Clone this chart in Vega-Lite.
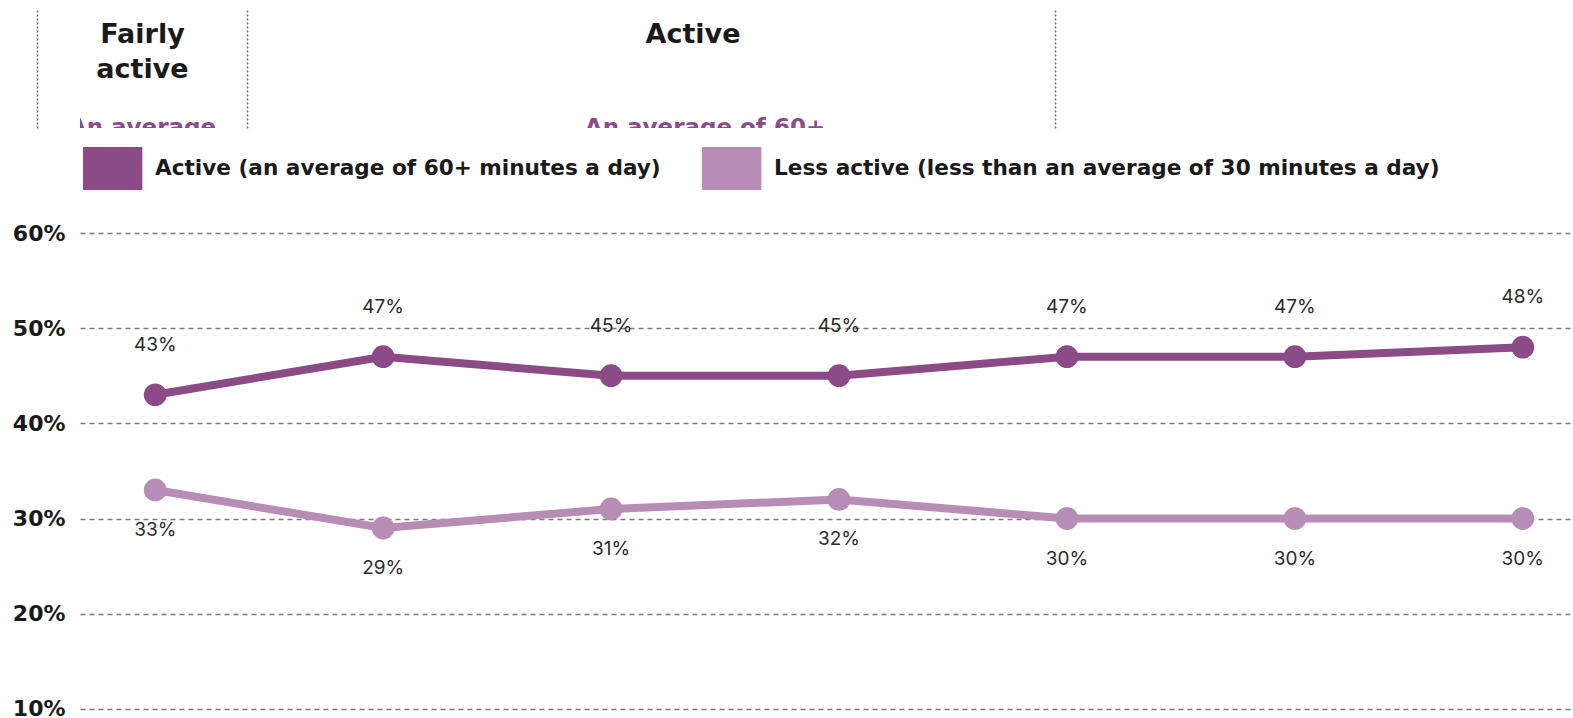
{
  "$schema": "https://vega.github.io/schema/vega-lite/v6.json",
  "background": "white",
  "padding": {"left": 12, "top": 10, "right": 0, "bottom": 0},
  "config": {
    "view": {"stroke": null},
    "concat": {"spacing": 0}
  },
  "datasets": {
    "headers": [
      {"column": "Fairly active", "part": "title", "text": "Fairly\nactive"},
      {"column": "Fairly active", "part": "sub", "text": "An average"},
      {"column": "Active", "part": "title", "text": "Active"},
      {"column": "Active", "part": "sub", "text": "An average of 60+"}
    ],
    "participation": [
      {"year": "2017-18", "group": "Active (an average of 60+ minutes a day)", "share": 0.43},
      {"year": "2018-19", "group": "Active (an average of 60+ minutes a day)", "share": 0.47},
      {"year": "2019-20", "group": "Active (an average of 60+ minutes a day)", "share": 0.45},
      {"year": "2020-21", "group": "Active (an average of 60+ minutes a day)", "share": 0.45},
      {"year": "2021-22", "group": "Active (an average of 60+ minutes a day)", "share": 0.47},
      {"year": "2022-23", "group": "Active (an average of 60+ minutes a day)", "share": 0.47},
      {"year": "2023-24", "group": "Active (an average of 60+ minutes a day)", "share": 0.48},
      {"year": "2017-18", "group": "Less active (less than an average of 30 minutes a day)", "share": 0.33},
      {"year": "2018-19", "group": "Less active (less than an average of 30 minutes a day)", "share": 0.29},
      {"year": "2019-20", "group": "Less active (less than an average of 30 minutes a day)", "share": 0.31},
      {"year": "2020-21", "group": "Less active (less than an average of 30 minutes a day)", "share": 0.32},
      {"year": "2021-22", "group": "Less active (less than an average of 30 minutes a day)", "share": 0.30},
      {"year": "2022-23", "group": "Less active (less than an average of 30 minutes a day)", "share": 0.30},
      {"year": "2023-24", "group": "Less active (less than an average of 30 minutes a day)", "share": 0.30}
    ]
  },
  "vconcat": [
    {
      "hconcat": [
        {
          "width": 167,
          "height": 118,
          "data": {"name": "headers"},
          "transform": [{"filter": "datum.column === 'Fairly active'"}],
          "encoding": {
            "y": {
              "field": "part", "type": "nominal",
              "scale": {"type": "point", "domain": ["title", "sub"], "padding": 0},
              "axis": {"labels": false, "ticks": false, "title": null, "grid": false, "offset": 43,
                       "domain": true, "domainColor": "#6b6b6b", "domainWidth": 1.5, "domainDash": [2, 2]}
            },
            "text": {"field": "text"}
          },
          "layer": [
            {
              "transform": [{"filter": "datum.part === 'title'"}],
              "mark": {"type": "text", "font": "DejaVu Sans", "fontWeight": "bold", "fontSize": 27, "color": "#1a1a1a",
                       "baseline": "top", "lineBreak": "\n", "lineHeight": 35, "dx": -21, "dy": 12}
            },
            {
              "transform": [{"filter": "datum.part === 'sub'"}],
              "mark": {"type": "text", "font": "DejaVu Sans", "fontWeight": "bold", "fontSize": 23, "color": "#8b4c8c",
                       "baseline": "alphabetic", "dx": -21, "dy": 7, "clip": true}
            }
          ]
        },
        {
          "width": 808,
          "height": 118,
          "data": {"name": "headers"},
          "transform": [{"filter": "datum.column === 'Active'"}],
          "encoding": {
            "y": {
              "field": "part", "type": "nominal",
              "scale": {"type": "point", "domain": ["title", "sub"], "padding": 0},
              "axis": {"labels": false, "ticks": false, "title": null, "grid": false,
                       "domain": true, "domainColor": "#6b6b6b", "domainWidth": 1.5, "domainDash": [2, 2]}
            },
            "text": {"field": "text"}
          },
          "layer": [
            {
              "transform": [{"filter": "datum.part === 'title'"}],
              "mark": {"type": "text", "font": "DejaVu Sans", "fontWeight": "bold", "fontSize": 27, "color": "#1a1a1a",
                       "baseline": "top", "dx": 42, "dy": 12}
            },
            {
              "transform": [{"filter": "datum.part === 'sub'"}],
              "mark": {"type": "text", "font": "DejaVu Sans", "fontWeight": "bold", "fontSize": 23, "color": "#8b4c8c",
                       "baseline": "alphabetic", "dx": 54, "dy": 7, "clip": true}
            }
          ]
        },
        {
          "width": 540,
          "height": 118,
          "data": {"name": "headers"},
          "transform": [{"filter": "datum.column === 'Very active'"}],
          "mark": {"type": "text"},
          "encoding": {
            "y": {
              "field": "part", "type": "nominal",
              "scale": {"type": "point", "domain": ["title", "sub"], "padding": 0},
              "axis": {"labels": false, "ticks": false, "title": null, "grid": false,
                       "domain": true, "domainColor": "#6b6b6b", "domainWidth": 1.5, "domainDash": [2, 2]}
            },
            "text": {"field": "text"}
          }
        }
      ]
    },
    {
      "width": 1518,
      "height": 571,
      "data": {"name": "participation"},
      "encoding": {
        "x": {
          "field": "year", "type": "ordinal",
          "scale": {"type": "point", "padding": 0.33},
          "axis": null
        },
        "y": {
          "field": "share", "type": "quantitative",
          "scale": {"domain": [0, 0.6], "nice": false},
          "axis": {
            "values": [0.1, 0.2, 0.3, 0.4, 0.5, 0.6],
            "format": ".0%",
            "title": null, "domain": false, "ticks": false,
            "labelFont": "DejaVu Sans", "labelFontWeight": "bold", "labelFontSize": 22, "labelColor": "#1a1a1a",
            "labelPadding": 15,
            "grid": true, "gridColor": "#7a7a7a", "gridWidth": 1.5, "gridDash": [5, 4]
          }
        },
        "color": {
          "field": "group", "type": "nominal",
          "scale": {
            "domain": ["Active (an average of 60+ minutes a day)", "Less active (less than an average of 30 minutes a day)"],
            "range": ["#8a4b87", "#b78db5"]
          },
          "legend": {
            "orient": "top", "direction": "horizontal", "title": null,
            "symbolType": "M-0.86,-1H1.9V1H-0.86Z", "symbolSize": 1849,
            "symbolStrokeWidth": 0, "symbolOpacity": 1,
            "labelFont": "DejaVu Sans", "labelFontWeight": "bold", "labelFontSize": 21.6, "labelColor": "#1a1a1a",
            "labelLimit": 0, "labelOffset": 32, "columnPadding": 38, "offset": 43,
            "encode": {"symbols": {"update": {"fill": {"scale": "color", "field": "value"}, "strokeWidth": {"value": 0}, "opacity": {"value": 1}}}}
          }
        }
      },
      "layer": [
        {"mark": {"type": "line", "strokeWidth": 8}},
        {"mark": {"type": "point", "filled": true, "size": 520, "opacity": 1}},
        {
          "transform": [{"filter": "datum.group === 'Active (an average of 60+ minutes a day)'"}],
          "mark": {"type": "text", "font": "Inter", "fontSize": 19, "dy": -50},
          "encoding": {
            "text": {"field": "share", "type": "quantitative", "format": ".0%"},
            "color": {"value": "#2a2a2a"}
          }
        },
        {
          "transform": [{"filter": "datum.group === 'Less active (less than an average of 30 minutes a day)'"}],
          "mark": {"type": "text", "font": "Inter", "fontSize": 19, "dy": 40},
          "encoding": {
            "text": {"field": "share", "type": "quantitative", "format": ".0%"},
            "color": {"value": "#2a2a2a"}
          }
        }
      ]
    }
  ],
  "spacing": 19,
  "resolve": {"scale": {"color": "independent"}, "legend": {"color": "independent"}}
}
